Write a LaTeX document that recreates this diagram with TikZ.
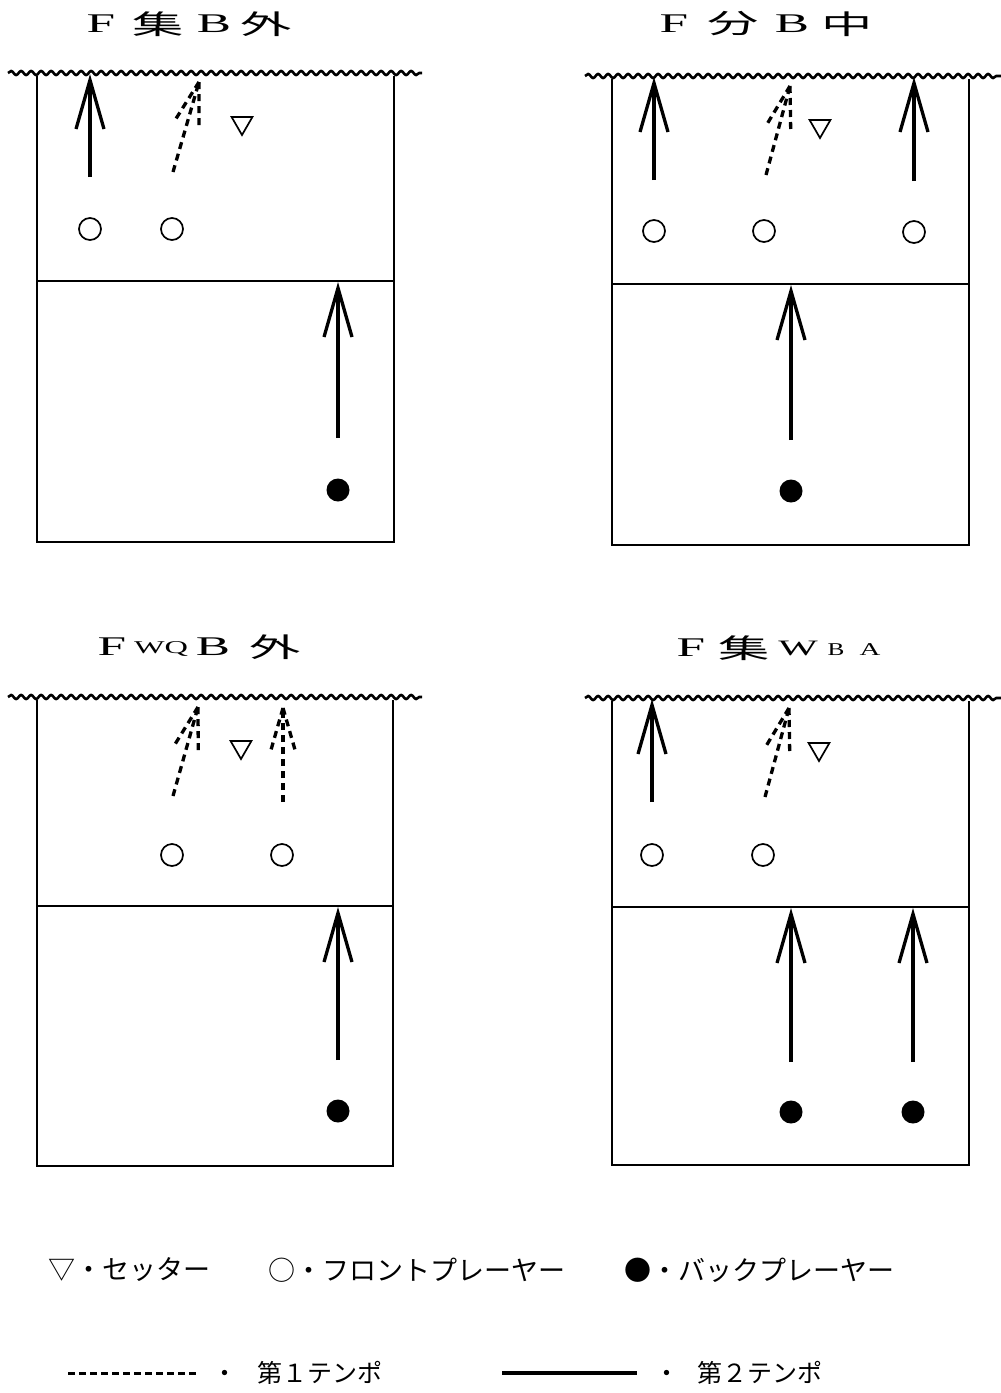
\documentclass[tikz,border=0pt]{standalone}
\usepackage{fontspec}
\setmainfont{Liberation Serif}
\newfontfamily\cjk{Noto Sans CJK JP}
\usetikzlibrary{arrows.meta,decorations.pathmorphing,shapes.geometric,calc}
\newcommand\widetxt[2]{\scalebox{#1}[1]{#2}}
\newcommand\dasharrow[2]{%
  \draw[dline] (#1) -- (#2);
  \draw[dline] (#2) -- ($(#2)!45pt!16:(#1)$);
  \draw[dline] (#2) -- ($(#2)!45pt!-16:(#1)$);}
\begin{document}
\begin{tikzpicture}[x=1pt,y=-1pt,
  court/.style={line width=1.9},
  net/.style={line width=2.6,decorate,decoration={snake,segment length=10pt,amplitude=2pt}},
  front/.style={circle,draw,line width=1.7,minimum size=22pt,inner sep=0pt},
  back/.style={circle,fill,minimum size=23pt,inner sep=0pt},
  setter/.style={regular polygon,regular polygon sides=3,shape border rotate=180,draw,line width=1.7,minimum size=24pt,inner sep=0pt},
  sarrow/.style={line width=3.3,-{Straight Barb[length=49pt,width=28pt]}},
  dline/.style={line width=3.3,dash pattern=on 7pt off 5pt},
  ttl/.style={inner sep=0pt,font=\fontsize{27}{27}\selectfont},
  ttls/.style={inner sep=0pt,font=\fontsize{18}{18}\selectfont},
  leg/.style={inner sep=0pt,font=\cjk\fontsize{27}{27}\selectfont},
  legb/.style={inner sep=0pt,font=\cjk\fontsize{25}{25}\selectfont},
]
\useasboundingbox (0,0) rectangle (1001,1393);

% ---------- Panel 1 ----------
\node[ttl] (t1a) at (101,24) {\widetxt{1.9}{F}};
\node[ttl] (t1b) at (158,24) {\widetxt{1.9}{\cjk 集}};
\node[ttl] (t1c) at (214,24) {\widetxt{1.9}{B}};
\node[ttl] (t1d) at (266,24) {\widetxt{1.9}{\cjk 外}};
\draw[net] (8,73) -- (422,73);
\draw[court] (37,76) -- (37,542) -- (394,542) -- (394,76);
\draw[court] (37,281) -- (394,281);
\coordinate (a1s) at (90,177); \coordinate (a1t) at (90,74);
\draw[sarrow] (a1s) -- (a1t);
\coordinate (d1s) at (173,172); \coordinate (d1t) at (199,82);
\dasharrow{d1s}{d1t}
\node[setter] (s1) at (242,123) {};
\node[front] (f1a) at (90,229) {};
\node[front] (f1b) at (172,229) {};
\coordinate (b1s) at (338,438); \coordinate (b1t) at (338,282);
\draw[sarrow] (b1s) -- (b1t);
\node[back] (k1) at (338,490) {};

% ---------- Panel 2 ----------
\node[ttl] (t2a) at (674,24) {\widetxt{1.9}{F}};
\node[ttl] (t2b) at (733,24) {\widetxt{1.9}{\cjk 分}};
\node[ttl] (t2c) at (792,24) {\widetxt{1.9}{B}};
\node[ttl] (t2d) at (847,24) {\widetxt{1.9}{\cjk 中}};
\draw[net] (585,76) -- (1001,76);
\draw[court] (612,79) -- (612,545) -- (969,545) -- (969,79);
\draw[court] (612,284) -- (969,284);
\coordinate (a2s) at (654,180); \coordinate (a2t) at (654,77);
\draw[sarrow] (a2s) -- (a2t);
\coordinate (a3s) at (914,181); \coordinate (a3t) at (914,77);
\draw[sarrow] (a3s) -- (a3t);
\coordinate (d2s) at (766,175); \coordinate (d2t) at (790,86);
\dasharrow{d2s}{d2t}
\node[setter] (s2) at (820,126) {};
\node[front] (f2a) at (654,231) {};
\node[front] (f2b) at (764,231) {};
\node[front] (f2c) at (914,232) {};
\coordinate (b2s) at (791,440); \coordinate (b2t) at (791,285);
\draw[sarrow] (b2s) -- (b2t);
\node[back] (k2) at (791,491) {};

% ---------- Panel 3 ----------
\node[ttl] (t3a) at (112,647) {\widetxt{1.9}{F}};
\node[ttls] (t3b) at (161,649) {\widetxt{1.8}{WQ}};
\node[ttl] (t3c) at (213,647) {\widetxt{1.9}{B}};
\node[ttl] (t3d) at (275,647) {\widetxt{1.9}{\cjk 外}};
\draw[net] (8,697) -- (422,697);
\draw[court] (37,700) -- (37,1166) -- (393,1166) -- (393,700);
\draw[court] (37,906) -- (393,906);
\coordinate (d3s) at (173,796); \coordinate (d3t) at (198,707);
\dasharrow{d3s}{d3t}
\coordinate (d4s) at (283,802); \coordinate (d4t) at (283,708);
\dasharrow{d4s}{d4t}
\node[setter] (s3) at (241,747) {};
\node[front] (f3a) at (172,855) {};
\node[front] (f3b) at (282,855) {};
\coordinate (b3s) at (338,1060); \coordinate (b3t) at (338,907);
\draw[sarrow] (b3s) -- (b3t);
\node[back] (k3) at (338,1111) {};

% ---------- Panel 4 ----------
\node[ttl] (t4a) at (691,648) {\widetxt{1.9}{F}};
\node[ttl] (t4b) at (744,648) {\widetxt{1.9}{\cjk 集}};
\node[font=\fontsize{22}{22}\selectfont,inner sep=0pt] (t4c) at (798,648) {\widetxt{1.9}{W}};
\node[ttls] (t4d) at (836,650) {\widetxt{1.4}{B}};
\node[ttls] (t4e) at (870,650) {\widetxt{1.6}{A}};
\draw[net] (585,698) -- (1001,698);
\draw[court] (612,701) -- (612,1165) -- (969,1165) -- (969,701);
\draw[court] (612,907) -- (969,907);
\coordinate (a4s) at (652,802); \coordinate (a4t) at (652,699);
\draw[sarrow] (a4s) -- (a4t);
\coordinate (d5s) at (765,797); \coordinate (d5t) at (789,708);
\dasharrow{d5s}{d5t}
\node[setter] (s4) at (819,749) {};
\node[front] (f4a) at (652,855) {};
\node[front] (f4b) at (763,855) {};
\coordinate (b4s) at (791,1062); \coordinate (b4t) at (791,908);
\draw[sarrow] (b4s) -- (b4t);
\coordinate (b5s) at (913,1062); \coordinate (b5t) at (913,908);
\draw[sarrow] (b5s) -- (b5t);
\node[back] (k4) at (791,1112) {};
\node[back] (k5) at (913,1112) {};

% ---------- Legend ----------
\node[leg,anchor=west] (l1) at (48,1270) {▽・セッター};
\node[leg,anchor=west] (l2) at (268,1270) {○・フロントプレーヤー};
\node[leg,anchor=west] (l3) at (624,1270) {●・バックプレーヤー};
\coordinate (q1) at (68,1373); \coordinate (q2) at (198,1373);
\draw[line width=3,dash pattern=on 7pt off 4pt] (q1) -- (q2);
\node[legb,anchor=west] (l5) at (212,1373) {・\hspace{20pt}第１テンポ};
\coordinate (q3) at (502,1373); \coordinate (q4) at (637,1373);
\draw[line width=3.5] (q3) -- (q4);
\node[legb,anchor=west] (l7) at (654,1373) {・\hspace{18pt}第２テンポ};
\end{tikzpicture}
\end{document}
